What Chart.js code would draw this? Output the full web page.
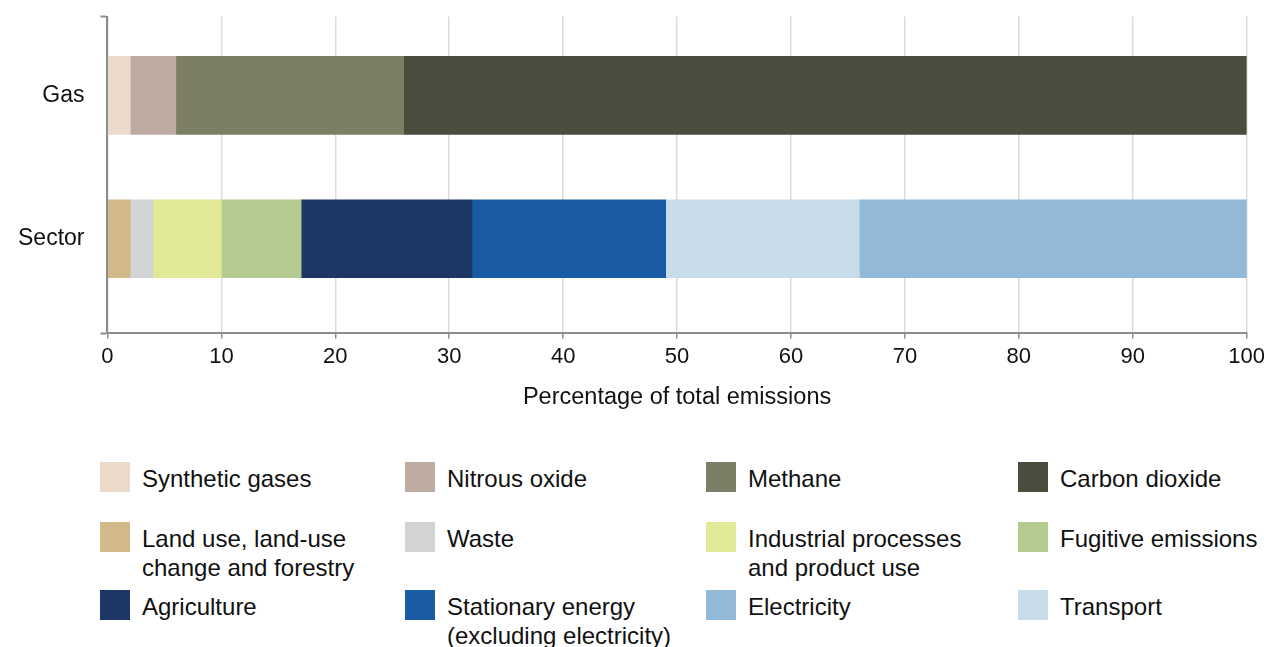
<!DOCTYPE html>
<html>
<head>
<meta charset="utf-8">
<script src="https://cdn.jsdelivr.net/npm/chart.js@4.4.1/dist/chart.umd.min.js"></script>
<style>
    html, body { margin: 0; padding: 0; background: #fff; overflow: hidden; }
    body { width: 1264px; height: 647px; position: relative; font-family: 'Liberation Sans', Arial, sans-serif; }
    #chartBox { position: absolute; left: 0; top: 0; width: 1270px; height: 412px; }
    #legend { position: absolute; left: 0; top: 0; }
    .item { position: absolute; display: flex; align-items: flex-start; }
    .swatch { width: 30px; height: 30px; flex: none; }
    .text { margin-left: 12px; margin-top: 2px; font-size: 24px; line-height: 29px; color: #111; white-space: pre; }
</style>
</head>
<body>
<div id="chartBox"><canvas id="emissionsChart"></canvas></div>
<div id="legend"></div>
<script>
const categories = ['Gas', 'Sector'];

const gasSeries = ['Synthetic gases', 'Nitrous oxide', 'Methane', 'Carbon dioxide'];
const gasValues = [2, 4, 20, 74];
const gasColors = ['#ecdbca', '#bdaba1', '#7c7e66', '#4a4c3e'];

const sectorSeries = ['Land use, land-use change and forestry', 'Waste', 'Industrial processes and product use',
    'Fugitive emissions', 'Agriculture', 'Stationary energy (excluding electricity)', 'Transport', 'Electricity'];
const sectorValues = [2, 2, 6, 7, 15, 17, 17, 34];
const sectorColors = ['#d2b98c', '#d2d3d4', '#e1e896', '#b3cb8e', '#1c3765', '#195ca4', '#c9dcea', '#92b9d7'];

// legend reads row by row, four per row
const legendOrder = ['Synthetic gases', 'Nitrous oxide', 'Methane', 'Carbon dioxide',
    'Land use, land-use change and forestry', 'Waste', 'Industrial processes and product use', 'Fugitive emissions',
    'Agriculture', 'Stationary energy (excluding electricity)', 'Electricity', 'Transport'];
const legendText = {
    'Land use, land-use change and forestry': 'Land use, land-use\nchange and forestry',
    'Industrial processes and product use': 'Industrial processes\nand product use',
    'Stationary energy (excluding electricity)': 'Stationary energy\n(excluding electricity)'
};

const xTitle = 'Percentage of total emissions';

// category axis is laid out as a linear scale so the rows sit where they should
const yMin = 0.45;
const yMax = 2.66;

const axisGrey = '#8c8c8c';
const fontFamily = "'Liberation Sans', Arial, sans-serif";

function isRow(c) {
    return c.tick && (c.tick.value === 1 || c.tick.value === 2);
}

function buildDatasets() {
    let sets = [];
    gasSeries.forEach((name, i) => {
        sets.push({ label: name, data: [{ x: gasValues[i], y: 1 }], backgroundColor: gasColors[i] });
    });
    sectorSeries.forEach((name, i) => {
        sets.push({ label: name, data: [{ x: sectorValues[i], y: 2 }], backgroundColor: sectorColors[i] });
    });
    return sets;
}

const ctx = document.getElementById('emissionsChart').getContext('2d');

const emissionsChart = new Chart(ctx, {
    type: 'bar',
    data: { datasets: buildDatasets() },
    options: {
        responsive: true,
        maintainAspectRatio: false,
        animation: false,
        indexAxis: 'y',
        datasets: { bar: { barThickness: 78, borderWidth: 0 } },
        layout: { padding: { left: 2, top: 13, right: 0, bottom: 0 } },
        plugins: {
            legend: { display: false },
            tooltip: { enabled: false }
        },
        scales: {
            x: {
                type: 'linear',
                stacked: true,
                min: 0,
                max: 100,
                ticks: {
                    stepSize: 10,
                    color: '#111',
                    padding: 5,
                    font: { family: fontFamily, size: 22 }
                },
                grid: {
                    color: '#dcdcdc',
                    lineWidth: 1.5,
                    tickColor: axisGrey,
                    tickLength: 5
                },
                border: { color: axisGrey, width: 2 },
                title: {
                    display: true,
                    text: xTitle,
                    color: '#111',
                    padding: { top: 9, bottom: 0 },
                    font: { family: fontFamily, size: 23.5 }
                }
            },
            y: {
                type: 'linear',
                stacked: true,
                reverse: true,
                offset: false,
                min: yMin,
                max: yMax,
                afterBuildTicks: scale => {
                    scale.ticks = [yMin, 1, 2, yMax].map(v => ({ value: v }));
                },
                ticks: {
                    autoSkip: false,
                    color: '#111',
                    padding: 16,
                    // end ticks only carry a tick mark, keep their (empty) label tiny
                    font: c => ({ family: fontFamily, size: isRow(c) ? 23 : 1 }),
                    callback: value => categories[value - 1] || ''
                },
                grid: {
                    offset: false,
                    color: 'transparent',
                    tickLength: 7,
                    tickWidth: 2,
                    tickColor: c => isRow(c) ? 'transparent' : axisGrey
                },
                border: { color: axisGrey, width: 2 }
            }
        }
    }
});

// grid legend below the chart
const colX = [100, 405, 706, 1018];
const rowY = [462, 522, 590];
const legendEl = document.getElementById('legend');
legendOrder.forEach((name, i) => {
    const ds = emissionsChart.data.datasets.find(d => d.label === name);
    const item = document.createElement('div');
    item.className = 'item';
    item.style.left = colX[i % 4] + 'px';
    item.style.top = rowY[Math.floor(i / 4)] + 'px';
    item.innerHTML = `<div class="swatch" style="background:${ds.backgroundColor}"></div>` +
        `<div class="text">${legendText[name] || name}</div>`;
    legendEl.appendChild(item);
});
</script>
</body>
</html>
